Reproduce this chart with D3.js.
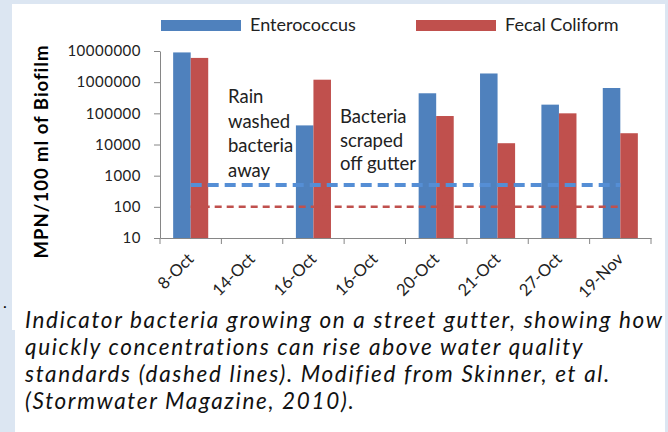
<!DOCTYPE html>
<html>
<head>
<meta charset="utf-8">
<script src="https://cdn.jsdelivr.net/npm/d3@7"></script>
<style>
  html, body { margin: 0; padding: 0; background: #dce6f2; }
  svg { display: block; }
  .tick text { font-family: Lato, "Open Sans", sans-serif; fill: #222; }
  .axis path, .axis line { stroke: #868686; }
</style>
</head>
<body>
<div id="chart"></div>
<script>
// data
var dates = ["8-Oct", "14-Oct", "16-Oct", "16-Oct ", "20-Oct", "21-Oct", "27-Oct", "19-Nov"];
var entero = [9.0e6, null, 4.1e4, null, 4.4e5, 1.9e6, 1.9e5, 6.5e5];
var fecal = [6.0e6, null, 1.2e6, null, 8.2e4, 1.1e4, 1.0e5, 2.3e4];
var seriesNames = ["Enterococcus", "Fecal Coliform"];
var standards = [500, 100]; // dashed lines
var yTicks = [10, 100, 1000, 10000, 100000, 1000000, 10000000];
var notes = [["Rain", "washed", "bacteria", "away"], ["Bacteria", "scraped", "off gutter"]];
var caption = [
    "Indicator bacteria growing on a street gutter, showing how",
    "quickly concentrations can rise above water quality",
    "standards (dashed lines). Modified from Skinner, et al.",
    "(Stormwater Magazine, 2010)."
];

var colors = ["#4f81bd", "#c0504d"];
var lineColors = ["#558ed5", "#c0504d"];

var W = 668, H = 432;
var margin = { top: 51, right: 17, bottom: 194, left: 160 },
    width = W - margin.left - margin.right,
    height = H - margin.top - margin.bottom;

var root = d3.select("#chart").append("svg")
    .attr("width", W)
    .attr("height", H);

// white panel
root.append("rect").attr("x", 12).attr("y", 4).attr("width", 653).attr("height", 326).attr("fill", "#fff");
root.append("rect").attr("x", 15).attr("y", 326).attr("width", 650).attr("height", 106).attr("fill", "#fff");

var svg = root.append("g")
    .attr("transform", "translate(" + margin.left + "," + margin.top + ")");

// scales
var x = d3.scaleBand().domain(dates).range([0, width]).padding(0);
var x1 = d3.scaleBand().domain([0, 1]).range([0, x.bandwidth()]).paddingInner(0).paddingOuter(0.75);
var y = d3.scaleLog().domain([10, 1e7]).range([height, 0]);

// y axis
var yAxis = svg.append("g")
    .attr("class", "axis")
    .call(d3.axisLeft(y).tickValues(yTicks).tickFormat(d3.format("d")).tickSize(6).tickSizeOuter(0).tickPadding(13));
yAxis.selectAll(".tick text").style("font-size", "15px").style("letter-spacing", "0.5px");

// x axis
var xAxis = svg.append("g")
    .attr("class", "axis")
    .attr("transform", "translate(0," + height + ")")
    .call(d3.axisBottom(x).tickSize(0).tickSizeOuter(0).tickFormat(function (d) { return d.trim(); }));
xAxis.selectAll(".tick text")
    .style("font-size", "16.5px")
    .attr("text-anchor", "end")
    .attr("dy", null)
    .attr("transform", "translate(4,22) rotate(-45)")
    .attr("y", 0).attr("x", 0);
// tick marks at band edges
var edges = dates.map(function (d) { return x(d); }).concat([width]);
xAxis.selectAll(".edge").data(edges).enter().append("line")
    .attr("class", "edge")
    .attr("x1", function (d) { return d; }).attr("x2", function (d) { return d; })
    .attr("y1", 0).attr("y2", 6)
    .attr("stroke", "#868686");

// bars
var rows = dates.map(function (d, i) { return { date: d, v: [entero[i], fecal[i]] }; });
var groups = svg.selectAll(".grp").data(rows).enter().append("g")
    .attr("transform", function (d) { return "translate(" + x(d.date) + ",0)"; });
groups.selectAll("rect")
    .data(function (d) { return d.v.map(function (v, k) { return { k: k, v: v }; }).filter(function (e) { return e.v != null; }); })
    .enter().append("rect")
    .attr("x", function (d) { return x1(d.k); })
    .attr("width", x1.bandwidth())
    .attr("y", function (d) { return y(d.v); })
    .attr("height", function (d) { return height - y(d.v); })
    .attr("fill", function (d) { return colors[d.k]; });

// standard lines
var xs = x(dates[0]) + x.bandwidth() / 2, xe = x(dates[dates.length - 1]) + x.bandwidth() / 2;
svg.selectAll(".std").data(standards).enter().append("line")
    .attr("x1", xs).attr("x2", xe)
    .attr("y1", function (d) { return y(d); }).attr("y2", function (d) { return y(d); })
    .attr("stroke", function (d, i) { return lineColors[i]; })
    .attr("stroke-width", function (d, i) { return i == 0 ? 4 : 2.5; })
    .attr("stroke-dasharray", function (d, i) { return i == 0 ? "11,6" : "7,5"; });

// notes
var noteFont = "Lato, 'Open Sans', sans-serif";
var n1 = svg.append("text").attr("x", 68).attr("y", 52)
    .style("font-family", noteFont).style("font-size", "18.5px").attr("fill", "#222");
n1.selectAll("tspan").data(notes[0]).enter().append("tspan")
    .attr("x", 68).attr("dy", function (d, i) { return i == 0 ? 0 : 24.6; })
    .text(function (d) { return d; });
var n2 = svg.append("text").attr("x", 180).attr("y", 72)
    .style("font-family", noteFont).style("font-size", "18.5px").attr("fill", "#222");
n2.selectAll("tspan").data(notes[1]).enter().append("tspan")
    .attr("x", 180).attr("dy", function (d, i) { return i == 0 ? 0 : 23.5; })
    .text(function (d) { return d; });

// y label
svg.append("text")
    .attr("text-anchor", "middle")
    .attr("transform", "translate(-112," + (height / 2 + 7) + ")rotate(-90)")
    .style("font-family", noteFont).style("font-size", "18.5px").style("font-weight", "bold")
    .style("letter-spacing", "1px")
    .attr("fill", "#000")
    .text("MPN/100 ml of Biofilm");

// legend
var lg = root.append("g");
var legX = [161, 416];
seriesNames.forEach(function (s, i) {
    lg.append("rect").attr("x", legX[i]).attr("y", 20).attr("width", 80).attr("height", 11)
        .attr("fill", colors[i]);
    lg.append("text").attr("x", legX[i] + 89).attr("y", 31)
        .style("font-family", noteFont).style("font-size", "18px").attr("fill", "#222")
        .text(s);
});

// caption, one text per line
root.append("text").attr("x", 3).attr("y", 308).style("font-size", "16px").style("font-family", noteFont).text(".");
var capLines = root.selectAll(".cap").data(caption).enter().append("text")
    .attr("class", "cap")
    .attr("x", 25).attr("y", function (d, i) { return 328 + i * 27; })
    .style("font-family", noteFont).style("font-size", "22.5px").style("font-style", "italic")
    .attr("fill", "#111")
    .text(function (d) { return d; });
// spread letters so the first line fills the panel width
var w0 = capLines.node().getComputedTextLength();
var ls = Math.max(0, (636 - w0) / (caption[0].length - 1));
capLines.style("letter-spacing", ls.toFixed(2) + "px");
</script>
</body>
</html>
